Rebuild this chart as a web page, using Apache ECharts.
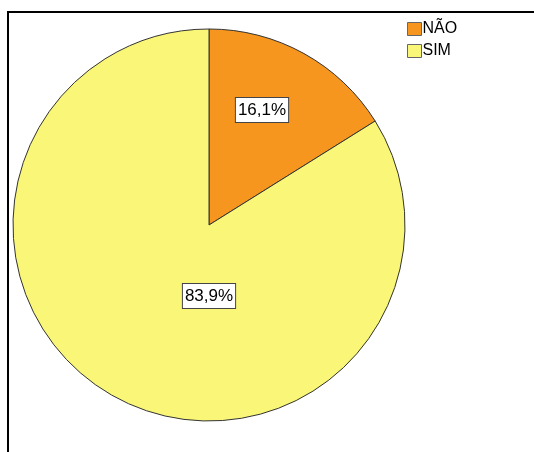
<!DOCTYPE html>
<html><head><meta charset="utf-8">
<script src="https://cdn.jsdelivr.net/npm/echarts@6/dist/echarts.min.js"></script>
<style>html,body{margin:0;padding:0;background:#fff}#c{width:534px;height:452px}</style>
</head><body><div id="c"></div>
<script>
var categories = ['NÃO', 'SIM'];
var values = [16.1, 83.9];
var labels = ['16,1%', '83,9%'];
var colors = ['#F7961E', '#FAF778'];

var chart = echarts.init(document.getElementById('c'), null, {renderer: 'canvas'});
var labelPos = [[262, 110], [209, 296]];
chart.setOption({
  animation: false,
  backgroundColor: '#fff',
  color: colors,
  legend: {
    orient: 'vertical',
    left: 402, top: 16,
    itemWidth: 14, itemHeight: 13, itemGap: 6,
    icon: 'rect',
    textStyle: {fontFamily: 'Liberation Sans', fontSize: 16, lineHeight: 13, color: '#000', padding: [1,0,0,-4]},
    itemStyle: {borderColor: '#666', borderWidth: 1},
    data: categories
  },
  graphic: [
    {type: 'line', shape: {x1: 8, y1: 12, x2: 534, y2: 12}, style: {stroke: '#000', lineWidth: 2}},
    {type: 'line', shape: {x1: 8, y1: 11, x2: 8, y2: 452}, style: {stroke: '#000', lineWidth: 2}}
  ],
  series: [{
    type: 'pie',
    center: [209, 225],
    radius: [0, 196],
    startAngle: 90,
    clockwise: true,
    silent: true,
    itemStyle: {borderColor: '#333', borderWidth: 1},
    label: {
      show: true,
      position: 'inside',
      formatter: function (p) { return labels[p.dataIndex]; },
      fontFamily: 'Liberation Sans', fontSize: 17, lineHeight: 17, color: '#000',
      backgroundColor: '#fff', borderColor: '#444', borderWidth: 1,
      padding: [4, 2, 3, 2]
    },
    labelLine: {show: false},
    labelLayout: function (p) {
      return {x: labelPos[p.dataIndex][0], y: labelPos[p.dataIndex][1], align: 'center', verticalAlign: 'middle'};
    },
    data: categories.map(function (c, i) { return {name: c, value: values[i]}; })
  }]
});
</script></body></html>
